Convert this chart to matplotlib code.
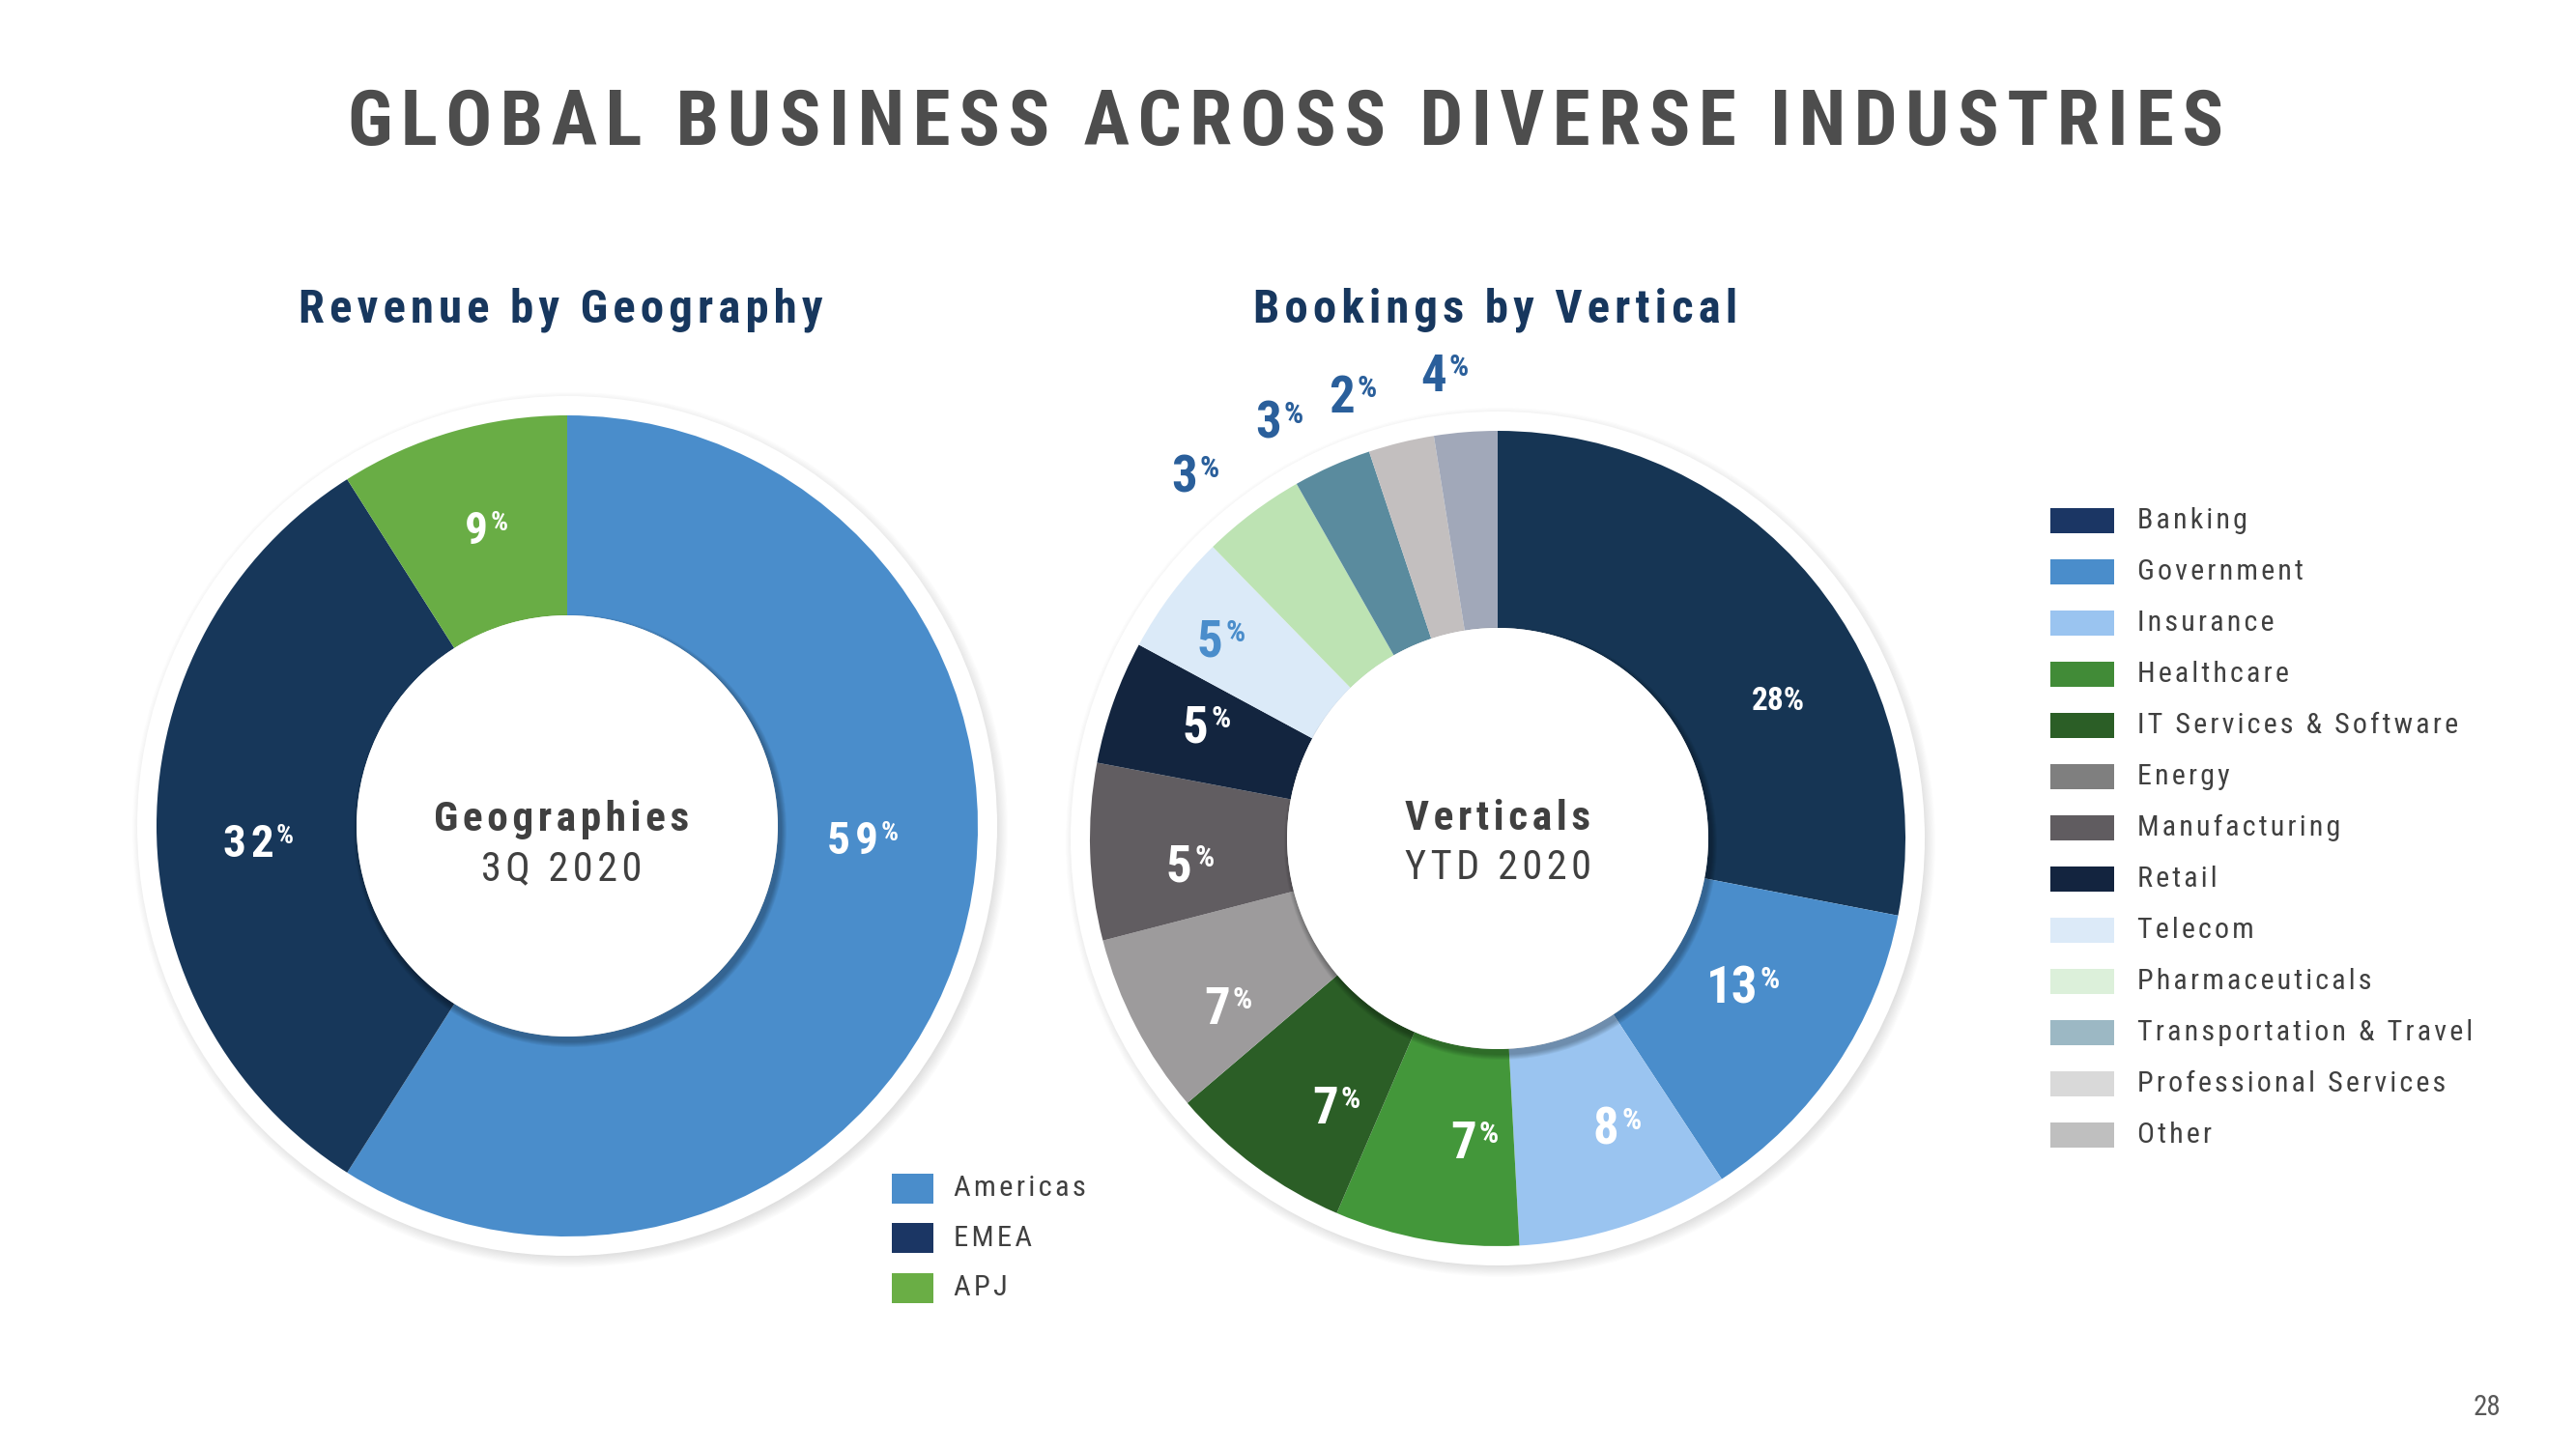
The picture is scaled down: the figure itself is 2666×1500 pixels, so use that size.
import numpy as np
import matplotlib.pyplot as plt
from matplotlib.patches import Circle, Rectangle

plt.rcParams['font.family'] = ['Roboto Condensed', 'Liberation Sans', 'DejaVu Sans']

W, H = 2666, 1500
HS = '\u200a'  # hair space used for letter tracking

# ---- data ----
title = 'GLOBAL BUSINESS ACROSS DIVERSE INDUSTRIES'
page_no = '28'

geo_title = 'Revenue by Geography'
geo_center = ['Geographies', '3Q 2020']
geo_names = ['Americas', 'EMEA', 'APJ']
geo_share = [59, 32, 9]
geo_pct = ['59', '32', '9']

vert_title = 'Bookings by Vertical'
vert_center = ['Verticals', 'YTD 2020']
vert_names = ['Banking', 'Government', 'Insurance', 'Healthcare',
              'IT Services & Software', 'Energy', 'Manufacturing', 'Retail',
              'Telecom', 'Pharmaceuticals', 'Transportation & Travel',
              'Professional Services', 'Other']
vert_share = [28.0, 12.7, 8.4, 7.3, 7.3, 7.2, 7.0, 4.9, 4.8, 4.1, 3.1, 2.6, 2.5]
vert_pct = ['28', '13', '8', '7', '7', '7', '5', '5', '5', '3', '3', '2', '4']

# ---- styles ----
geo_colors = ['#4A8DCB', '#17375A', '#69AD45']
geo_leg_colors = ['#4A8DCB', '#1B3664', '#6AAE45']
vert_colors = ['#163554', '#4A8DCB', '#9AC4F0', '#43973A', '#2B5E26', '#9D9B9C',
               '#615D61', '#13253F', '#DBEAF8', '#BDE3B3', '#5A8B9E', '#C3BFBF', '#A1A8B9']
vert_leg_colors = ['#1B3664', '#4A8DCB', '#9AC4F0', '#418B37', '#2B5E26', '#7F7F7F',
                   '#605C60', '#13243F', '#DCEAF8', '#DCF0DA', '#9CB8C4', '#D9D9D9', '#BFBFBF']
vert_lbl_colors = ['white'] * 8 + ['#4A8DCB'] + ['#2A5F9B'] * 4

NAVY = '#17375E'
GREY = '#404040'

# label offsets from donut centre (px, y up)
geo_lbl_xy = [(306, -12), (-320, -15), (-85, 309)]
vert_lbl_xy = [(290, 142), (256, -152), (125, -298), (-23, -312), (-166, -276),
               (-278, -173), (-317, -26), (-300, 118), (-285, 207),
               (-312, 377), (-225, 433), (-149, 460), (-54, 482)]


def spaced(s, n=1):
    return (HS * n).join(s)


fig = plt.figure(figsize=(W / 100, H / 100), dpi=100)
ax = fig.add_axes([0, 0, 1, 1])
ax.set_xlim(0, W)
ax.set_ylim(0, H)
rend = fig.canvas.get_renderer()


def fit_size(s, target, size=30, **kw):
    # font size at which the tracked string is `target` px wide
    t = ax.text(0, 0, spaced(s), fontsize=size, **kw)
    w = t.get_window_extent(rend).width
    t.remove()
    return size * target / w


def donut(cx, cy, r_out, r_in, shares, colors):
    # soft shadow and white halo behind the ring
    for k in range(12):
        ax.add_patch(Circle((cx + 3, cy - 4), r_out + 28 - k * 1.2, color='black',
                            alpha=0.012, lw=0, zorder=1))
    ax.add_patch(Circle((cx, cy), r_out + 20, color='white', lw=0, zorder=2))
    wedges, _ = ax.pie(shares, colors=colors, startangle=90, counterclock=False,
                       radius=r_out, center=(cx, cy), frame=True,
                       wedgeprops=dict(width=r_out - r_in, linewidth=0))
    for w in wedges:
        w.set_zorder(3)
    # shadow of the centre disc
    for k in range(6):
        ax.add_patch(Circle((cx + 3, cy - 5), r_in + 6 - k, color='black',
                            alpha=0.05, lw=0, zorder=4))
    ax.add_patch(Circle((cx, cy), r_in, color='white', lw=0, zorder=5))


def pct_label(x, y, num, size, color, track=True):
    em = size * 100 / 72
    w_num = (0.47 + 0.1 * track) * em * len(num)
    w_pct = 0.45 * em
    xj = x + (w_num - w_pct) / 2
    base = y - 0.355 * em
    ax.text(xj, base, spaced(num) if track else num, ha='right', va='baseline',
            fontsize=size, fontweight='bold', color=color, zorder=6)
    ax.text(xj + 0.05 * em, base + 0.29 * em, '%', ha='left', va='baseline',
            fontsize=size * 0.6, fontweight='bold', color=color, zorder=6)


# left donut
gcx, gcy = 587, 645
donut(gcx, gcy, 425, 218, geo_share, geo_colors)
for (dx, dy), p in zip(geo_lbl_xy, geo_pct):
    pct_label(gcx + dx, gcy + dy, p, 34, 'white')

# right donut
vcx, vcy = 1550, 632
donut(vcx, vcy, 422, 218, vert_share, vert_colors)
for i, ((dx, dy), p, c) in enumerate(zip(vert_lbl_xy, vert_pct, vert_lbl_colors)):
    if i == 0:
        ax.text(vcx + dx, vcy + dy, p + '%', ha='center', va='center',
                fontsize=24, fontweight='bold', color=c, zorder=6)
    else:
        pct_label(vcx + dx, vcy + dy, p, 38, c, track=False)

# centre texts
fs_c1 = fit_size(geo_center[0], 264, fontweight='bold')
fs_c2 = fit_size(geo_center[1], 166)
for cx, cy, (t1, t2) in [(gcx - 6, gcy, geo_center), (vcx, vcy + 14, vert_center)]:
    ax.text(cx, cy - 5, spaced(t1), ha='center', va='baseline', fontsize=fs_c1,
            fontweight='bold', color=GREY, zorder=6)
    ax.text(cx, cy - 56, spaced(t2), ha='center', va='baseline', fontsize=fs_c2,
            color=GREY, zorder=6)

# titles
ax.text(1331, 1350, spaced(title), ha='center', va='baseline',
        fontsize=fit_size(title, 1937, fontweight='bold'),
        fontweight='bold', color='#4D4D4D')
fs_sub = (fit_size(geo_title, 553, fontweight='bold')
          + fit_size(vert_title, 492, fontweight='bold')) / 2
ax.text(580, 1166, spaced(geo_title), ha='center', va='baseline', fontsize=fs_sub,
        fontweight='bold', color=NAVY)
ax.text(1548, 1166, spaced(vert_title), ha='center', va='baseline', fontsize=fs_sub,
        fontweight='bold', color=NAVY)

# legends
fs_lg = fit_size(geo_names[0], 136)
for i, (name, c) in enumerate(zip(geo_names, geo_leg_colors)):
    y = 270 - i * 51.5
    ax.add_patch(Rectangle((923, y - 15.5), 43, 31, color=c, lw=0))
    ax.text(987, y, spaced(name), ha='left', va='center', fontsize=fs_lg, color=GREY)

fs_lv = fit_size(vert_names[10], 347)
for i, (name, c) in enumerate(zip(vert_names, vert_leg_colors)):
    y = 961 - i * 53
    ax.add_patch(Rectangle((2122, y - 13), 66, 26, color=c, lw=0))
    ax.text(2212, y, spaced(name), ha='left', va='center', fontsize=fs_lv, color=GREY)

ax.text(2588, 43, page_no, ha='right', va='center', fontsize=21, color='#595959')

ax.set_xlim(0, W)
ax.set_ylim(0, H)
ax.set_aspect('equal')
ax.axis('off')
fig.savefig('out.png', dpi=100, facecolor='white')
